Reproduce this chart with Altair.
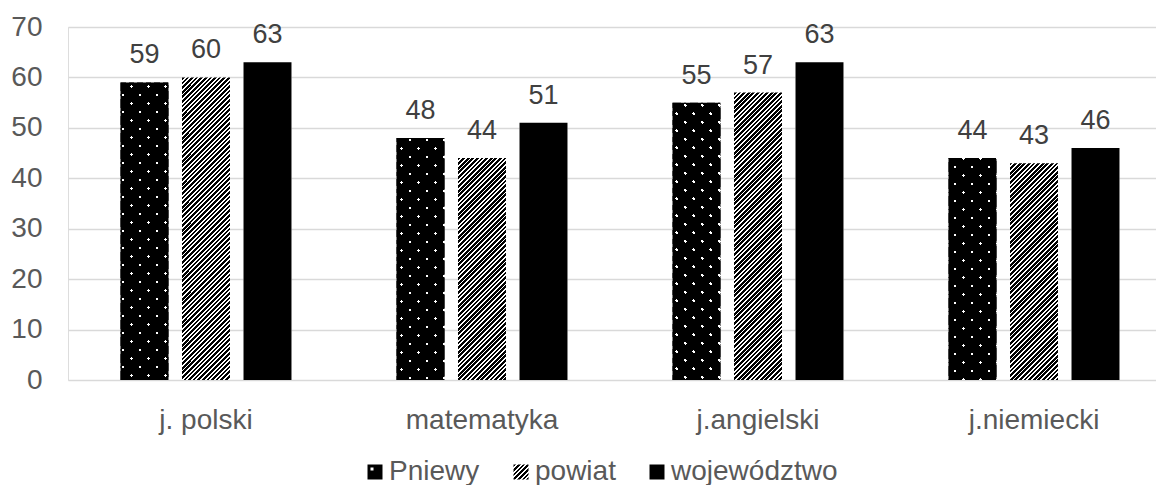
import altair as alt
import pandas as pd

# ---------------- data ----------------
categories = ["j. polski", "matematyka", "j.angielski", "j.niemiecki"]
series = ["Pniewy", "powiat", "województwo"]
pniewy = [59, 48, 55, 44]
powiat = [60, 44, 57, 43]
wojewodztwo = [63, 51, 63, 46]
y_ticks = [0, 10, 20, 30, 40, 50, 60, 70]

rows = []
for s, vals in zip(series, [pniewy, powiat, wojewodztwo]):
    for c, v in zip(categories, vals):
        rows.append({"kategoria": c, "seria": s, "wartosc": v})
df = pd.DataFrame(rows)

# ---------------- layout / style constants ----------------
PLOT_W = 1088
PLOT_H = 353
Y_MAX = 70
BAR_W = 48
K = BAR_W + PLOT_H          # gradient length in (x+y) pixel units
FONT = "Liberation Sans"


def stops_lit(period, dark_frac, dark, light, k):
    ps = period / k
    out = []
    i = 0
    while i * ps < 1:
        a = i * ps
        b = min(a + dark_frac * ps, 1.0)
        c = min(a + ps, 1.0)
        out += [(a, dark), (b, dark), (b, light), (c, light)]
        i += 1
    return "[" + ",".join("{offset:%.5f,color:'%s'}" % (o, col) for o, col in out) + "]"


H = "(datum.wartosc*%.6f)" % (PLOT_H / Y_MAX)
D = "(%d+%s*%s)" % (BAR_W * BAR_W, H, H)

HATCH = stops_lit(4.6, 0.6, "black", "white", K)
DOTS = stops_lit(17.0, 1 - 3.4 / 17.0, "black", "rgba(0,0,0,0)", K)


def grad_up(stops):
    return "{gradient:'linear',x1:0,y1:0,x2:%d/%s,y2:%d*%s/%s,stops:%s}" % (
        K * BAR_W, D, K, H, D, stops)


def grad_down(stops):
    return "{gradient:'linear',x1:0,y1:1,x2:%d/%s,y2:1-%d*%s/%s,stops:%s}" % (
        K * BAR_W, D, K, H, D, stops)


fill_main = "datum.seria=='Pniewy' ? %s : (datum.seria=='powiat' ? %s : 'black')" % (
    grad_up(DOTS), grad_up(HATCH))
fill_cross = grad_down(DOTS)

LEG_HATCH = stops_lit(4.6, 0.6, "black", "white", 30)
legend_fill = (
    "datum.value=='powiat' ? {gradient:'linear',x1:0,y1:0,x2:1,y2:1,stops:%s} : "
    "(datum.value=='Pniewy' ? {gradient:'radial',x1:0.3,y1:0.3,r1:0,x2:0.3,y2:0.3,r2:1,"
    "stops:[{offset:0,color:'white'},{offset:0.1,color:'white'},{offset:0.1,color:'black'},{offset:1,color:'black'}]}"
    " : 'black')" % LEG_HATCH
)

# ---------------- encodings ----------------
x_enc = alt.X(
    "kategoria:N",
    sort=categories,
    scale=alt.Scale(range=[0, 1104], paddingInner=0, paddingOuter=0),
    axis=alt.Axis(
        title=None, labelAngle=0, domain=False, ticks=False, grid=False,
        labelFont=FONT, labelFontSize=28, labelColor="#595959",
        labelPadding=48, labelBaseline="alphabetic",
    ),
)
xo_enc = alt.XOffset(
    "seria:N", sort=series,
    scale=alt.Scale(paddingInner=0.22, paddingOuter=0.854),
)
y_enc = alt.Y(
    "wartosc:Q",
    scale=alt.Scale(domain=[0, Y_MAX], nice=False, zero=True),
    axis=alt.Axis(
        title=None, values=y_ticks, domain=False, ticks=False, tickSize=0,
        labelFont=FONT, labelFontSize=28, labelColor="#595959", labelPadding=26,
        gridColor="#d9d9d9", gridWidth=1.5,
    ),
)

base = alt.Chart(df).encode(x=x_enc, xOffset=xo_enc, y=y_enc)

white_base = base.mark_bar(color="white")

main_bars = base.transform_calculate(grad=fill_main).mark_bar().encode(
    fill=alt.Fill("grad:N", scale=None),
    opacity=alt.Opacity(
        "seria:O", sort=series,
        scale=alt.Scale(domain=series, range=[1, 1, 1]),
        legend=alt.Legend(
            title=None, orient="none", direction="horizontal",
            legendX=293, legendY=431, padding=0,
            symbolType="square", symbolSize=225, symbolStrokeWidth=0,
            symbolOpacity=1,
            symbolFillColor=alt.ExprRef(expr=legend_fill),
            labelFont=FONT, labelFontSize=28, labelColor="#595959",
            labelOffset=0, columnPadding=27, labelLimit=400,
        ),
    ),
)

cross_bars = (
    base.transform_filter("datum.seria=='Pniewy'")
    .transform_calculate(grad2=fill_cross)
    .mark_bar()
    .encode(fill=alt.Fill("grad2:N", scale=None))
)

labels = base.mark_text(
    baseline="alphabetic", dy=-19, font=FONT, fontSize=27, color="#404040"
).encode(text=alt.Text("wartosc:Q"))

chart = (
    alt.layer(white_base, main_bars, cross_bars, labels)
    .properties(
        width=PLOT_W, height=PLOT_H,
        autosize=alt.AutoSizeParams(type="none"),
        padding={"left": 60, "top": 19, "right": 0, "bottom": 105},
    )
    .configure_view(stroke=None)
    .configure(background="white")
)

chart.save("out.html", embed_options={"renderer": "svg", "actions": False})
